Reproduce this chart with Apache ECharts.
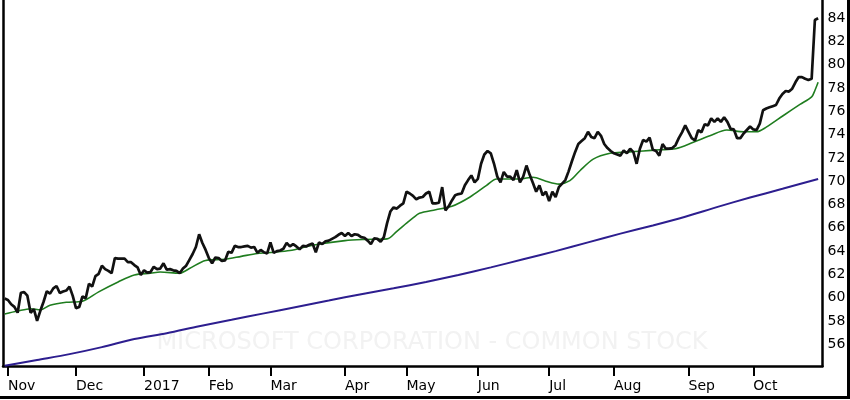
<!DOCTYPE html>
<html><head><meta charset="utf-8">
<script src="https://cdn.jsdelivr.net/npm/echarts@6/dist/echarts.min.js"></script>
<style>html,body{margin:0;padding:0;background:#fff}#c{width:850px;height:400px}</style>
</head><body><div id="c"></div><script>
// Trading-day index 0 = 2016-10-31 ... 251 = 2017-10-30
const monthTickIdx = [1, 22, 43, 63, 82, 105, 124, 146, 168, 188, 211, 231];
const monthLabels = ['Nov', 'Dec', '2017', 'Feb', 'Mar', 'Apr', 'May', 'Jun', 'Jul', 'Aug', 'Sep', 'Oct'];
const yTickValues = [56, 58, 60, 62, 64, 66, 68, 70, 72, 74, 76, 78, 80, 82, 84];
const watermark = 'MICROSOFT CORPORATION - COMMON STOCK';

// Daily closing price, one value per trading day
const closePrice = [
  59.92,
  59.80, 59.43, 59.21, 58.71, 60.42, 60.47, 60.17, 58.70, 59.02, 58.00,
  58.87, 59.65, 60.55, 60.35, 60.80, 61.00, 60.40, 60.53, 60.61, 60.95, 60.15,
  59.10, 59.20, 60.10, 59.95, 61.20, 60.95, 61.85, 62.05, 62.75, 62.45,
  62.30, 62.10, 63.40, 63.35, 63.35, 63.35, 63.05, 63.05, 62.80, 62.60, 61.95,
  62.35, 62.15, 62.20, 62.65, 62.45, 62.50, 62.95, 62.40, 62.45, 62.35,
  62.30, 62.10, 62.50, 62.75, 63.25, 63.75, 64.35, 65.45, 64.70, 64.10,
  63.40, 62.95, 63.45, 63.40, 63.15, 63.20, 63.95, 63.85, 64.45, 64.35,
  64.35, 64.40, 64.45, 64.30, 64.35, 63.85, 64.10, 63.90, 63.80,
  64.75, 63.85, 64.00, 64.05, 64.20, 64.70, 64.40, 64.60, 64.40, 64.15,
  64.45, 64.40, 64.55, 64.65, 63.90, 64.75, 64.60, 64.85, 64.90, 65.05,
  65.20, 65.40, 65.55,
  65.30, 65.55, 65.30, 65.45, 65.40, 65.20, 65.15, 64.90, 64.60, 65.10,
  65.05, 64.80, 65.20, 66.40, 67.40, 67.75, 67.65, 67.90, 68.10,
  69.10, 68.95, 68.75, 68.45, 68.60, 68.65, 68.95, 69.10, 68.10, 68.10,
  68.15, 69.50, 67.50, 67.85, 68.35, 68.80, 68.90, 68.95, 69.65, 70.10,
  70.50, 69.90,
  70.20, 71.50, 72.30, 72.60, 72.40, 71.50, 70.40, 69.90, 70.80, 70.40,
  70.40, 70.10, 70.95, 69.90, 70.40, 71.35, 70.55, 69.85, 69.10, 69.65,
  68.80, 69.10,
  68.30, 69.10, 68.65, 69.50, 69.80, 70.10, 70.85, 71.70, 72.50, 73.20,
  73.45, 73.70, 74.25, 73.80, 73.70, 74.25, 73.90, 73.20, 72.85, 72.60,
  72.40, 72.30, 72.20, 72.65, 72.40, 72.80, 72.50, 71.50, 72.80, 73.55,
  73.40, 73.75, 72.70, 72.60, 72.20, 73.20, 72.80, 72.80, 72.85, 73.10,
  73.70, 74.20, 74.80,
  74.25, 73.70, 73.50, 74.40, 74.20, 74.90, 74.80, 75.40, 75.10, 75.40,
  75.10, 75.50, 75.10, 74.50, 74.45, 73.70, 73.70, 74.10, 74.40, 74.70,
  74.45, 74.40, 74.95, 76.10, 76.25, 76.35, 76.45, 76.55, 77.10, 77.50,
  77.75, 77.70, 77.95, 78.50, 78.95, 78.95, 78.80, 78.70, 78.80, 83.85,
  84.00
];

// Shorter moving average (green), read at sampled trading days: [dayIndex, value]
const maShortPts = [
  [0, 58.6], [4, 58.85], [8, 59.05], [11, 58.95], [14, 59.35], [19, 59.6], [24, 59.7],
  [29, 60.5], [35, 61.35], [40, 61.95], [45, 62.1], [48, 62.2], [54, 62.1], [57, 62.5],
  [62, 63.2], [68, 63.3], [73, 63.55], [78, 63.8], [83, 63.9], [88, 64.05], [95, 64.5],
  [105, 64.9], [111, 65.0], [118, 65.05], [121, 65.7], [124, 66.4], [126, 66.85],
  [128, 67.25], [133, 67.55], [138, 67.85], [143.6, 68.65], [148.7, 69.65], [151.8, 70.2],
  [159, 70.2], [163, 70.35], [167, 70.0], [171, 69.75], [174.4, 70.05], [177.5, 70.9],
  [181.6, 71.9], [186.8, 72.4], [192, 72.5], [197, 72.6], [202, 72.7], [207, 72.8],
  [212.5, 73.35], [217.6, 73.9], [222.8, 74.4], [228, 74.25], [232, 74.25], [235, 74.65],
  [240.3, 75.65], [245.4, 76.6], [249, 77.25], [250, 77.8], [251, 78.5]
];

// Longer moving average (navy), read at sampled trading days: [dayIndex, value]
const maLongPts = [
  [0, 54.15], [10, 54.65], [20, 55.15], [30, 55.75], [40, 56.45], [50, 56.95],
  [60, 57.55], [70, 58.1], [80, 58.65], [90, 59.2], [100, 59.75], [110, 60.3],
  [120, 60.8], [130, 61.35], [140, 61.95], [150, 62.6], [160, 63.3], [170, 64.0],
  [180, 64.75], [190, 65.5], [200, 66.2], [210, 66.95], [220, 67.8], [230, 68.6],
  [240, 69.35], [251, 70.2]
];

const chart = echarts.init(document.getElementById('c'), null, { renderer: 'canvas' });
const Y_MIN = 54.13, Y_MAX = 85.57;
const FONT = 'DejaVu Sans';
const edge = { show: true, onZero: false, lineStyle: { color: '#000', width: 2.5 } };

chart.setOption({
  animation: false,
  backgroundColor: '#fff',
  grid: { left: 3, right: 27.5, top: 0, bottom: 34, show: false },
  xAxis: {
    type: 'value', min: -0.52, max: 252.35,
    axisLine: edge,
    axisTick: { show: true, customValues: monthTickIdx, length: 10, lineStyle: { color: '#000', width: 2 } },
    axisLabel: {
      customValues: monthTickIdx,
      formatter: v => monthLabels[monthTickIdx.indexOf(v)] || '',
      align: 'left', margin: 13, color: '#000', fontSize: 14, fontFamily: FONT
    },
    splitLine: { show: false }
  },
  yAxis: [
    {
      type: 'value', position: 'right', min: Y_MIN, max: Y_MAX,
      axisLine: edge, axisTick: { show: false },
      axisLabel: { customValues: yTickValues, margin: 5, color: '#000', fontSize: 14, fontFamily: FONT },
      splitLine: { show: false }
    },
    {
      type: 'value', position: 'left', min: Y_MIN, max: Y_MAX,
      axisLine: edge, axisTick: { show: false }, axisLabel: { show: false },
      splitLine: { show: false }
    }
  ],
  graphic: [
    {
      type: 'text', x: 432, y: 343, z: 0, silent: true,
      style: { text: watermark, fill: '#f2f2f2', font: '24px "DejaVu Sans"', align: 'center', verticalAlign: 'middle' }
    },
    { type: 'line', shape: { x1: 848.5, y1: 0, x2: 848.5, y2: 399 }, style: { stroke: '#000', lineWidth: 3 } },
    { type: 'line', shape: { x1: 0, y1: 397.5, x2: 850, y2: 397.5 }, style: { stroke: '#000', lineWidth: 3 } }
  ],
  series: [
    {
      type: 'line', name: 'Long MA', data: maLongPts, showSymbol: false, smooth: 0.3,
      lineStyle: { color: '#2d1e8f', width: 2 }, z: 3
    },
    {
      type: 'line', name: 'Short MA', data: maShortPts, showSymbol: false, smooth: 0.3,
      lineStyle: { color: '#1f7d1f', width: 1.6 }, z: 4
    },
    {
      type: 'line', name: 'Close', data: closePrice.map((v, i) => [i, v]), showSymbol: false,
      lineStyle: { color: '#111', width: 2.7 }, z: 5
    }
  ]
});
</script></body></html>
